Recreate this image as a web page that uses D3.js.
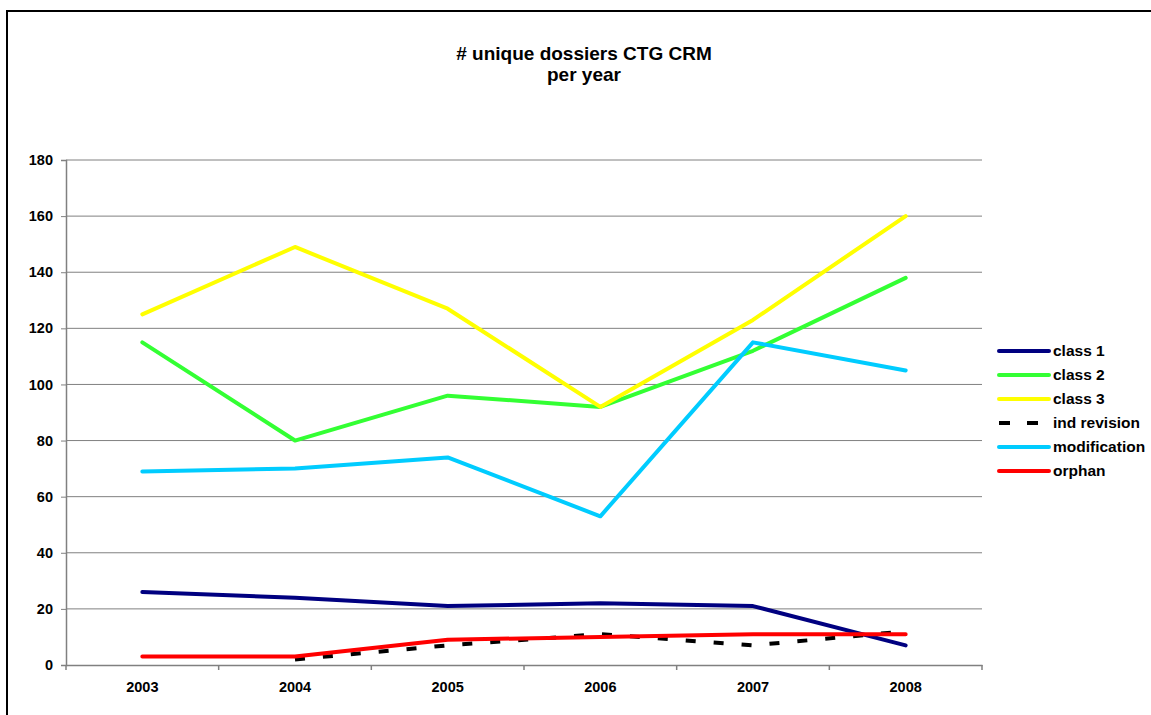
<!DOCTYPE html>
<html><head><meta charset="utf-8">
<script src="https://cdn.jsdelivr.net/npm/d3@7"></script>
<style>body{margin:0;background:#fff;}svg{display:block;font-family:"Liberation Sans",Arial,sans-serif;}</style>
</head><body>
<svg id="chart" width="1151" height="715"></svg>
<script>
const years = ["2003","2004","2005","2006","2007","2008"];
const class1 = [26, 24, 21, 22, 21, 7];
const class2 = [115, 80, 96, 92, 112, 138];
const class3 = [125, 149, 127, 92, 123, 160];
const indRevision = [null, 2, 7, 11, 7, 12];
const modification = [69, 70, 74, 53, 115, 105];
const orphan = [3, 3, 9, 10, 11, 11];
const yTicks = [0,20,40,60,80,100,120,140,160,180];
const seriesNames = ["class 1","class 2","class 3","ind revision","modification","orphan"];

(function(){
const series = [
  {name:seriesNames[0], values:class1, color:"#000080", dash:null},
  {name:seriesNames[1], values:class2, color:"#33ff33", dash:null},
  {name:seriesNames[2], values:class3, color:"#ffff00", dash:null},
  {name:seriesNames[3], values:indRevision, color:"#000000", dash:"10,18"},
  {name:seriesNames[4], values:modification, color:"#00ccff", dash:null},
  {name:seriesNames[5], values:orphan, color:"#ff0000", dash:null}
];

const svg = d3.select("#chart");
svg.append("rect").attr("x",7).attr("y",11).attr("width",1160).attr("height",720)
  .attr("fill","#fff").attr("stroke","#000").attr("stroke-width",2);

const pL=66, pR=982, pT=160, pB=665;
const x = d3.scaleBand().domain(years).range([pL,pR]);
const y = d3.scaleLinear().domain([0,180]).range([pB,pT]);

svg.append("g").selectAll("line").data(yTicks.filter(d=>d>0)).join("line")
  .attr("x1",pL).attr("x2",pR).attr("y1",d=>y(d)).attr("y2",d=>y(d))
  .attr("stroke","#808080").attr("stroke-width",1);

const yAxis = svg.append("g").attr("transform",`translate(${pL},0)`)
  .call(d3.axisLeft(y).tickValues(yTicks).tickSize(5).tickPadding(8));
yAxis.select(".domain").attr("stroke","#808080").attr("stroke-width",1.5);
yAxis.selectAll(".tick line").attr("stroke","#808080");
yAxis.selectAll("text").attr("font-size","14.5px").attr("font-weight","bold").attr("fill","#000")
  .attr("font-family","Liberation Sans, Arial, sans-serif");

const xAxis = svg.append("g").attr("transform",`translate(0,${pB})`)
  .call(d3.axisBottom(x).tickSize(0).tickPadding(17));
xAxis.select(".domain").attr("stroke","#808080").attr("stroke-width",1.5);
xAxis.selectAll("text").attr("font-size","14.5px").attr("font-weight","bold").attr("fill","#000")
  .attr("font-family","Liberation Sans, Arial, sans-serif");
const bounds = years.map(d=>x(d)).concat([pR]);
svg.append("g").selectAll("line").data(bounds).join("line")
  .attr("x1",d=>d).attr("x2",d=>d).attr("y1",pB).attr("y2",pB+5)
  .attr("stroke","#808080").attr("stroke-width",1.5);

const line = d3.line()
  .defined(d=>d.v!=null)
  .x(d=>x(d.year)+x.bandwidth()/2).y(d=>y(d.v));
series.forEach(s=>{
  svg.append("path")
    .datum(years.map((yr,i)=>({year:yr, v:s.values[i]})))
    .attr("d",line).attr("fill","none").attr("stroke",s.color)
    .attr("stroke-width",4).attr("stroke-linejoin","round")
    .attr("stroke-linecap", s.dash ? "butt" : "round")
    .attr("stroke-dasharray", s.dash);
});

const lg = svg.append("g");
series.forEach((s,i)=>{
  const yy = 351 + i*24;
  lg.append("line").attr("x1",999).attr("x2",1049).attr("y1",yy).attr("y2",yy)
    .attr("stroke",s.color).attr("stroke-width",4)
    .attr("stroke-linecap", s.dash ? "butt":"round")
    .attr("stroke-dasharray", s.dash ? "11,17" : null);
  lg.append("text").attr("x",1053).attr("y",yy).attr("dy","0.35em")
    .attr("font-size","15.5px").attr("font-weight","bold").text(s.name);
});

const t = svg.append("text").attr("x",584).attr("text-anchor","middle")
  .attr("font-size","19px").attr("font-weight","bold");
t.append("tspan").attr("x",584).attr("y",60).text("# unique dossiers CTG CRM");
t.append("tspan").attr("x",584).attr("y",81).text("per year");
})();
</script>
</body></html>
